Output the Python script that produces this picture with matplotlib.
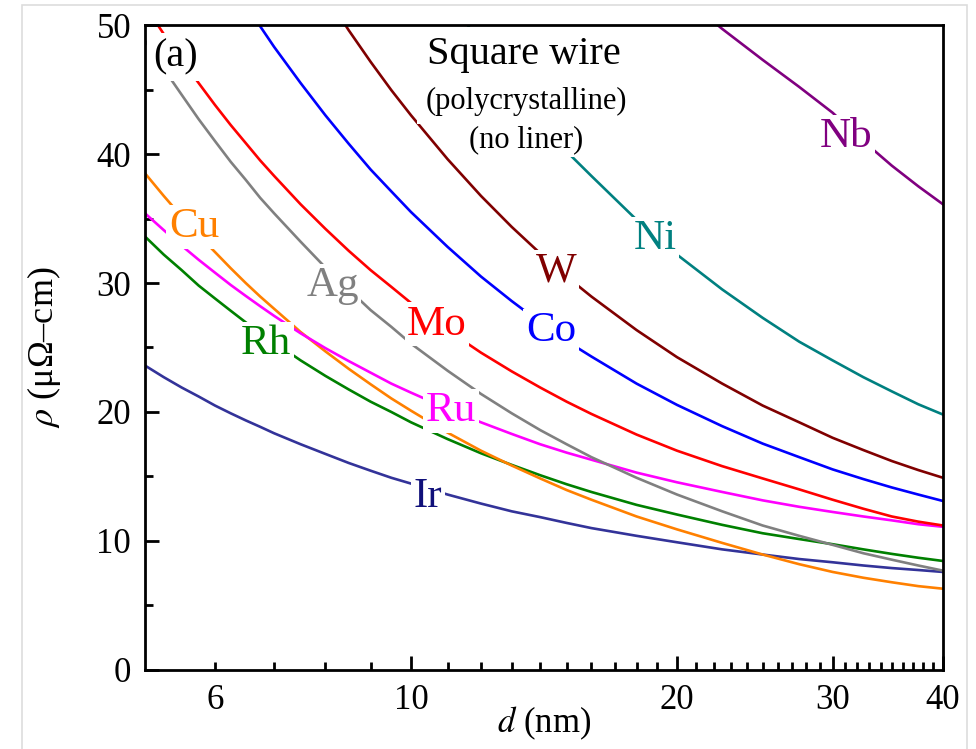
import numpy as np
import matplotlib
matplotlib.use("Agg")
import matplotlib.pyplot as plt
from matplotlib.ticker import FixedLocator, FixedFormatter, FuncFormatter
from matplotlib.patches import Rectangle

plt.rcParams['font.family'] = ['Liberation Serif', 'DejaVu Serif']
plt.rcParams['mathtext.fontset'] = 'stix'

# wire width d (nm)
D = [5, 5.25, 5.5, 5.75, 6, 6.25, 6.5, 6.75, 7, 7.5, 8, 8.5, 9, 9.5, 10,
     11, 12, 13, 14, 15, 16, 18, 20, 22.5, 25, 27.5, 30, 32.5, 35, 37.5, 40]

# resistivity (uOhm-cm); values above 50 fall outside the axes
CU = [38.5, 36.75, 35.15, 33.7, 32.4, 31.15, 30.0, 28.95, 28.0, 26.2, 24.7, 23.35, 22.15, 21.05, 20.1,
      18.4, 17.0, 15.85, 14.85, 13.95, 13.2, 11.9, 10.9, 9.85, 8.95, 8.2, 7.6, 7.15, 6.8, 6.5, 6.3]
RU = [35.4, 34.1, 32.9, 31.8, 30.8, 29.85, 29.0, 28.2, 27.45, 26.1, 24.95, 23.95, 23.05, 22.2, 21.5,
      20.25, 19.2, 18.3, 17.5, 16.85, 16.3, 15.3, 14.55, 13.8, 13.15, 12.65, 12.25, 11.9, 11.6, 11.3, 11.1]
RH = [33.6, 32.2, 31.0, 29.8, 28.8, 27.85, 26.95, 26.15, 25.4, 24.0, 22.8, 21.75, 20.8, 20.0, 19.2,
      17.9, 16.8, 15.9, 15.1, 14.4, 13.8, 12.8, 12.05, 11.25, 10.6, 10.15, 9.75, 9.35, 9.0, 8.7, 8.45]
IR = [23.6, 22.7, 21.9, 21.2, 20.5, 19.9, 19.35, 18.85, 18.35, 17.5, 16.75, 16.05, 15.45, 14.9, 14.45,
      13.6, 12.9, 12.3, 11.85, 11.4, 11.0, 10.4, 9.9, 9.35, 8.95, 8.6, 8.35, 8.1, 7.9, 7.75, 7.6]
AG = [48.8, 46.6, 44.6, 42.7, 41.0, 39.4, 38.0, 36.6, 35.4, 33.2, 31.2, 29.5, 27.9, 26.6, 25.3,
      23.2, 21.4, 19.9, 18.6, 17.5, 16.5, 14.9, 13.6, 12.3, 11.2, 10.4, 9.7, 9.05, 8.55, 8.1, 7.7]
MO = [51.5, 49.3, 47.3, 45.5, 43.8, 42.25, 40.85, 39.5, 38.3, 36.1, 34.2, 32.5, 31.0, 29.7, 28.45,
      26.35, 24.6, 23.15, 21.9, 20.8, 19.85, 18.25, 17.0, 15.8, 14.85, 14.0, 13.2, 12.5, 11.9, 11.5, 11.2]
CO = [65.4, 62.55, 60.0, 57.6, 55.4, 53.4, 51.6, 49.9, 48.3, 45.5, 43.0, 40.8, 38.8, 37.1, 35.5,
      32.8, 30.5, 28.6, 26.95, 25.5, 24.3, 22.2, 20.55, 18.9, 17.55, 16.5, 15.55, 14.8, 14.15, 13.6, 13.1]
W = [80.4, 76.9, 73.6, 70.7, 68.0, 65.5, 63.2, 61.0, 59.0, 55.5, 52.4, 49.6, 47.15, 44.95, 43.0,
     39.6, 36.75, 34.35, 32.3, 30.5, 28.95, 26.35, 24.25, 22.2, 20.5, 19.2, 18.0, 17.05, 16.2, 15.5, 14.9]
NI = [106.9, 102.1, 97.8, 93.9, 90.3, 87.0, 83.9, 81.1, 78.5, 73.7, 69.6, 65.9, 62.6, 59.7, 57.1,
      52.4, 48.4, 45.1, 42.5, 40.2, 38.3, 34.9, 32.2, 29.5, 27.3, 25.45, 24.0, 22.7, 21.6, 20.6, 19.8]
NB = [113, 110, 107, 104, 101, 99, 97, 95, 93, 89, 86, 83, 80, 78, 76,
      72, 69, 66, 63, 61, 59, 55.5, 52.6, 49.7, 47.3, 45.2, 43.2, 41.0, 39.1, 37.5, 36.1]

series = [
    ("Ir", IR, "#333399", "#10107a", 10.45, 13.4),
    ("Rh", RH, "#008000", "#008000", 6.85, 25.3),
    ("Cu", CU, "#ff8000", "#ff8000", 5.68, 34.35),
    ("Ru", RU, "#ff00ff", "#ff00ff", 11.1, 20.1),
    ("Ag", AG, "#808080", "#808080", 8.15, 29.8),
    ("Mo", MO, "#ff0000", "#ff0000", 10.7, 26.8),
    ("Co", CO, "#0000ff", "#0000ff", 14.4, 26.3),
    ("W", W, "#800000", "#800000", 14.6, 30.9),
    ("Ni", NI, "#008080", "#008080", 18.9, 33.4),
    ("Nb", NB, "#800080", "#800080", 31.1, 41.3),
]

fig = plt.figure(figsize=(9.76, 7.49), dpi=100)
ax = fig.add_axes([0.1486, 0.1055, 0.8176, 0.8611])

for name, vals, lc, tc, lx, ly in series:
    ax.plot(D, vals, color=lc, lw=1.9, zorder=2)
    ax.text(lx, ly, name, color=tc, fontsize=31, ha="center", va="center", zorder=4,
            bbox=dict(facecolor="white", edgecolor="none", pad=2))

ax.set_xscale("log")
ax.set_xlim(5, 40)
ax.set_ylim(0, 50)

ax.xaxis.set_major_locator(FixedLocator([10, 20, 30, 40]))
ax.xaxis.set_major_formatter(FixedFormatter(["10", "20", "30", "40"]))
ax.xaxis.set_minor_locator(FixedLocator([i for i in range(6, 40) if i not in (10, 20, 30)]))
ax.xaxis.set_minor_formatter(FuncFormatter(lambda v, p: "6" if abs(v - 6) < 1e-6 else ""))
ax.set_yticks([0, 10, 20, 30, 40, 50])
ax.set_yticks([5, 15, 25, 35, 45], minor=True)

ax.tick_params(which="both", direction="in", top=False, right=False, width=2, labelsize=25)
ax.tick_params(which="major", length=10, pad=10)
ax.tick_params(which="minor", length=5.5, pad=10)
for sp in ax.spines.values():
    sp.set_linewidth(2)

ax.set_xlabel("$d$ (nm)", fontsize=25, labelpad=-9)
ax.set_ylabel(r"$\rho$ (μΩ–cm)", fontsize=26, labelpad=24)

ax.text(0.038, 0.95, "(a)", transform=ax.transAxes, fontsize=29, ha="center", va="center", zorder=5,
        bbox=dict(facecolor="white", edgecolor="none", pad=4))
ax.text(0.475, 0.955, "Square wire", transform=ax.transAxes, fontsize=29, ha="center", va="center",
        zorder=5, bbox=dict(facecolor="white", edgecolor="none", pad=6))
ax.text(0.478, 0.882, "(polycrystalline)", transform=ax.transAxes, fontsize=22, ha="center", va="center",
        zorder=5, bbox=dict(facecolor="white", edgecolor="none", pad=6))
ax.text(0.478, 0.822, "(no liner)", transform=ax.transAxes, fontsize=22, ha="center", va="center",
        zorder=5, bbox=dict(facecolor="white", edgecolor="none", pad=2))

fig.patches.append(Rectangle((0.023, -0.01), 0.968, 1.003, transform=fig.transFigure,
                             facecolor="none", edgecolor="#dddddd", lw=1.2))

fig.savefig("out.png", dpi=100)
